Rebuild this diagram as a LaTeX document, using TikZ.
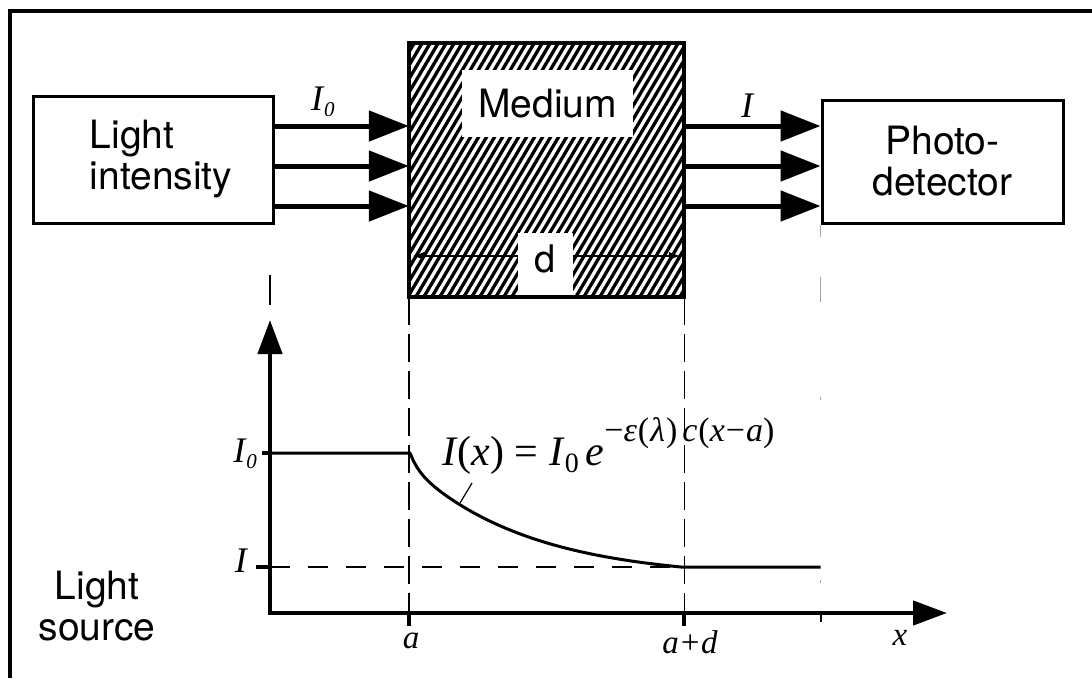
\documentclass[tikz,border=0pt]{standalone}
\usepackage{fontspec}
\setmainfont{Liberation Serif}
\setsansfont{TeX Gyre Heros}
\usetikzlibrary{arrows.meta,calc}
\newcommand{\Izero}{\textit{I}\kern1pt\raisebox{-6pt}{\fontsize{21}{21}\selectfont\itshape 0}}
\begin{document}
\begin{tikzpicture}[x=1pt,y=-1pt,
  sans/.style={font=\sffamily\fontsize{39}{41}\selectfont},
  box/.style={draw,line width=3pt,inner sep=0pt,sans},
  beam/.style={line width=5pt,-{Triangle[length=40pt,width=30pt]}},
  axisline/.style={line width=4.5pt,line cap=rect,-{Triangle[length=34pt,width=24pt]}},
  guide/.style={line width=1.4pt,dash pattern=on 28pt off 9pt},
  lbl/.style={font=\fontsize{36}{38}\selectfont\itshape,inner sep=0pt},
  xlbl/.style={font=\fontsize{33}{33}\selectfont\itshape,inner sep=0pt,anchor=base},
  tick/.style={line width=4pt},
  curve/.style={line width=3pt,line join=round}
]
\useasboundingbox (0,0) rectangle (1092,678);
% frame
\coordinate (fbl) at (10,678);
\coordinate (ftl) at (10,11);
\coordinate (ftr) at (1092,11);
\draw[line width=3.5pt] (fbl) -- (ftl) -- (ftr);

% boxes
\node[box,minimum width=240pt,minimum height=127pt,align=left] (src) at (153,159.5) {\hspace*{16pt}Light\\\hspace*{16pt}intensity};
\node[box,minimum width=241pt,minimum height=123pt,align=center] (det) at (942.5,161.5) {Photo-\\detector};
\node[minimum width=275pt,minimum height=254pt,inner sep=0pt] (med) at (546.5,170) {};

% hatching
\begin{scope}
  \clip (med.south west) rectangle (med.north east);
  \foreach \i in {-170,-162,...,700} \draw[line width=3.3pt] (\i,300) -- ++(160,-270);
\end{scope}

% dimension line d
\coordinate (dl) at (0,256);
\draw[line width=2.2pt,{Latex[length=12pt,width=8pt]}-{Latex[length=12pt,width=8pt]}] ([xshift=3pt]med.west |- dl) -- ([xshift=-3pt]med.east |- dl);
\node[fill=white,minimum width=55pt,minimum height=64pt,inner sep=0pt,font=\sffamily\fontsize{38}{38}\selectfont] (dlbl) at (545.5,265) {\raisebox{12pt}{d}};
\node[fill=white,minimum width=171pt,minimum height=67pt,inner sep=0pt,sans] (medlbl) at (547.5,103.5) {Medium};
\draw[line width=4pt] (med.south west) rectangle (med.north east);

% beams
\foreach \y [count=\k] in {126,166,206} {
  \coordinate (r\k) at (0,\y);
  \draw[beam] (src.east |- r\k) -- (med.west |- r\k);
  \draw[beam] (med.east |- r\k) -- (det.west |- r\k);
}
\node[lbl,anchor=base west] (i0top) at (311,110) {\Izero};
\node[lbl,anchor=base] (itop) at (747,117) {I};

% axes
\coordinate (O) at (270,613);
\coordinate (ytip) at (270,320);
\coordinate (xtip) at (947,613);
\draw[axisline] (O) -- (ytip);
\draw[axisline] (O) -- (xtip);

% guide lines
\coordinate (g0a) at (270,275);
\coordinate (g0b) at (270,305);
\draw[line width=1.4pt] (g0a) -- (g0b);
\draw[guide] (med.south west) -- (med.south west |- O);
\draw[guide] (med.south east) -- (med.south east |- O);
\draw[gray!70,line width=1pt,dash pattern=on 12pt off 40pt on 25pt off 95pt on 3pt off 180pt on 3pt off 30pt] (det.south west) -- (det.south west |- O);

% levels
\coordinate (lI0) at (270,453);
\coordinate (lI) at (270,567);
\coordinate (lIend) at (681,567);
\draw[line width=1.4pt,dash pattern=on 20pt off 18pt] (lI) -- (lIend);
\draw[curve] (lI0) -- (410,453) -- plot[domain=0:271,samples=80] ({410+\x},{453+114*(0.12*(1-exp(-\x/8))+0.88*(1-exp(-\x/120))/(1-exp(-271/120)))}) -- (det.south west |- lIend);

% ticks
\draw[tick] ([xshift=-8pt]lI0) -- (lI0);
\draw[tick] ([xshift=-14pt]lI) -- (lI);
\draw[tick] (med.south west |- O) -- ++(0,13);
\draw[tick] (med.south east |- O) -- ++(0,13);
\draw[line width=2pt] (det.south west |- O) -- ++(0,9);

% axis labels
\node[lbl,anchor=base east] (i0ax) at (257,462) {\Izero};
\node[lbl,anchor=base east] (iax) at (247,572) {I};
\node[xlbl] (la) at (411,648) {a};
\node[xlbl] (lad) at (690,653) {a+d};
\node[xlbl] (lx) at (900,645) {x};

% formula
\node[anchor=base west,inner sep=0pt,font=\fontsize{42}{42}\selectfont] (eq) at (442,465)
  {\textit{I}(\textit{x}) = \textit{I}\raisebox{-7pt}{\fontsize{28}{28}\selectfont 0}\,\textit{e}\raisebox{24pt}{\fontsize{34}{34}\selectfont −\textit{ε}\kern1pt(\kern1pt\textit{λ}\kern1pt)\kern5pt\textit{c}\kern1pt(\textit{x}\kern1pt−\kern1pt\textit{a})}};
\coordinate (lead1) at (472,483);
\coordinate (lead2) at (460,503);
\draw[line width=1.2pt] (lead1) -- (lead2);

% light source
\node[sans,align=center,inner sep=0pt] (ls) at (97,606) {Light\\source};
\end{tikzpicture}
\end{document}
